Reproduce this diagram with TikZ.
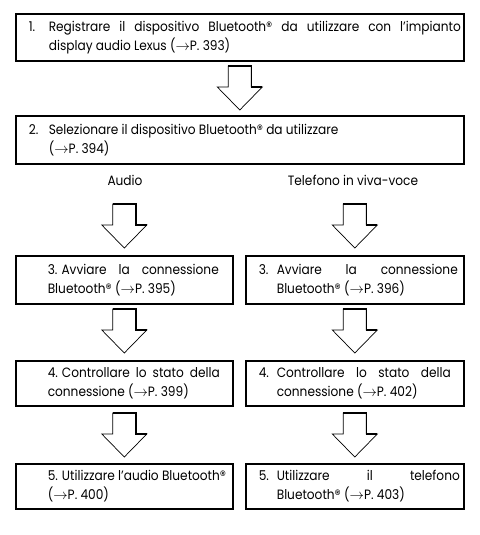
\documentclass[tikz,border=0pt]{standalone}
\usepackage{fontspec}
\setmainfont{Poppins}[FakeStretch=0.9]
\usetikzlibrary{positioning,calc}
\frenchspacing

\newcommand{\bluetooth}{Bluetooth\textregistered}
\newcommand{\seepage}[1]{($\rightarrow$P.~#1)}
% left gap, text width, right gap, hang, number, text
\newcommand{\steptext}[6]{\hspace*{#1pt}\parbox{#2pt}{\hyphenpenalty=10000\hangindent=#4pt\hangafter=1\noindent\makebox[#4pt][l]{#5}#6\par}\hspace*{#3pt}}

\tikzset{
  pics/flowarrow/.style={code={
    \draw[fill=white, line width=0.7pt] (-11.5,-44) -- (-11.5,-23) -- (-22.5,-23) -- (0,0) -- (22.5,-23) -- (11.5,-23) -- (11.5,-44) -- cycle;
    \draw[line width=1.6pt] (-11.5,-44) -- (11.5,-44) -- (11.5,-23) -- (22.5,-23);
  }}
}

\begin{document}
\begin{tikzpicture}[
    x=1pt, y=-1pt,
    stepbox/.style={rectangle, draw, line width=1.6pt, inner sep=0pt, anchor=north west, font=\fontsize{13.5}{19}\selectfont},
    branch/.style={inner sep=0pt, font=\fontsize{13.5}{19}\selectfont}
]
\useasboundingbox (0,0) rectangle (479,535);

% Nodes
\node[stepbox, minimum height=47pt] (register) at (15,13)
  {\steptext{13}{432}{3}{20}{1.}{Registrare il dispositivo \bluetooth{} da utilizzare con l’impianto\linebreak display audio Lexus \seepage{393}}};
\node[stepbox, minimum height=48pt] (select) at (15,115)
  {\steptext{13}{432}{3}{20}{2.}{Selezionare il dispositivo \bluetooth{} da utilizzare\\ \seepage{394}}};

\node[branch] (audio) at (125,180) {Audio};
\node[branch] (phone) at (353,180) {Telefono in viva-voce};

\node[stepbox, minimum height=48pt] (connecta) at (15,255)
  {\steptext{32}{171}{14}{0}{}{3.\hspace{4pt}Avviare la connessione\linebreak \bluetooth{} \seepage{395}}};
\node[stepbox, minimum height=48pt] (connectp) at (245,255)
  {\steptext{13}{199}{6}{18}{3.}{Avviare la connessione\linebreak \bluetooth{} \seepage{396}}};

\node[stepbox, minimum height=45pt] (checka) at (15,360)
  {\steptext{32}{172}{13}{0}{}{4.\hspace{4pt}Controllare lo stato della\linebreak connessione \seepage{399}}};
\node[stepbox, minimum height=45pt] (checkp) at (245,360)
  {\steptext{13}{192}{13}{18}{4.}{Controllare lo stato della\linebreak connessione \seepage{402}}};

\node[stepbox, minimum height=45pt] (usea) at (15,463)
  {\steptext{32}{185}{0}{0}{}{5.\hspace{4pt}Utilizzare l’audio \bluetooth\\ \seepage{400}}};
\node[stepbox, minimum height=45pt] (usep) at (245,463)
  {\steptext{13}{201}{4}{18}{5.}{Utilizzare il telefono\linebreak \bluetooth{} \seepage{403}}};

% Arrows
\pic at ([yshift=5pt]select.north) {flowarrow};
\pic at ([yshift=7pt]connecta.north) {flowarrow};
\pic at ([yshift=7pt]connectp.north) {flowarrow};
\pic at ([yshift=7pt]checka.north) {flowarrow};
\pic at ([yshift=7pt]checkp.north) {flowarrow};
\pic at ([yshift=6pt]usea.north) {flowarrow};
\pic at ([yshift=6pt]usep.north) {flowarrow};

\end{tikzpicture}
\end{document}
